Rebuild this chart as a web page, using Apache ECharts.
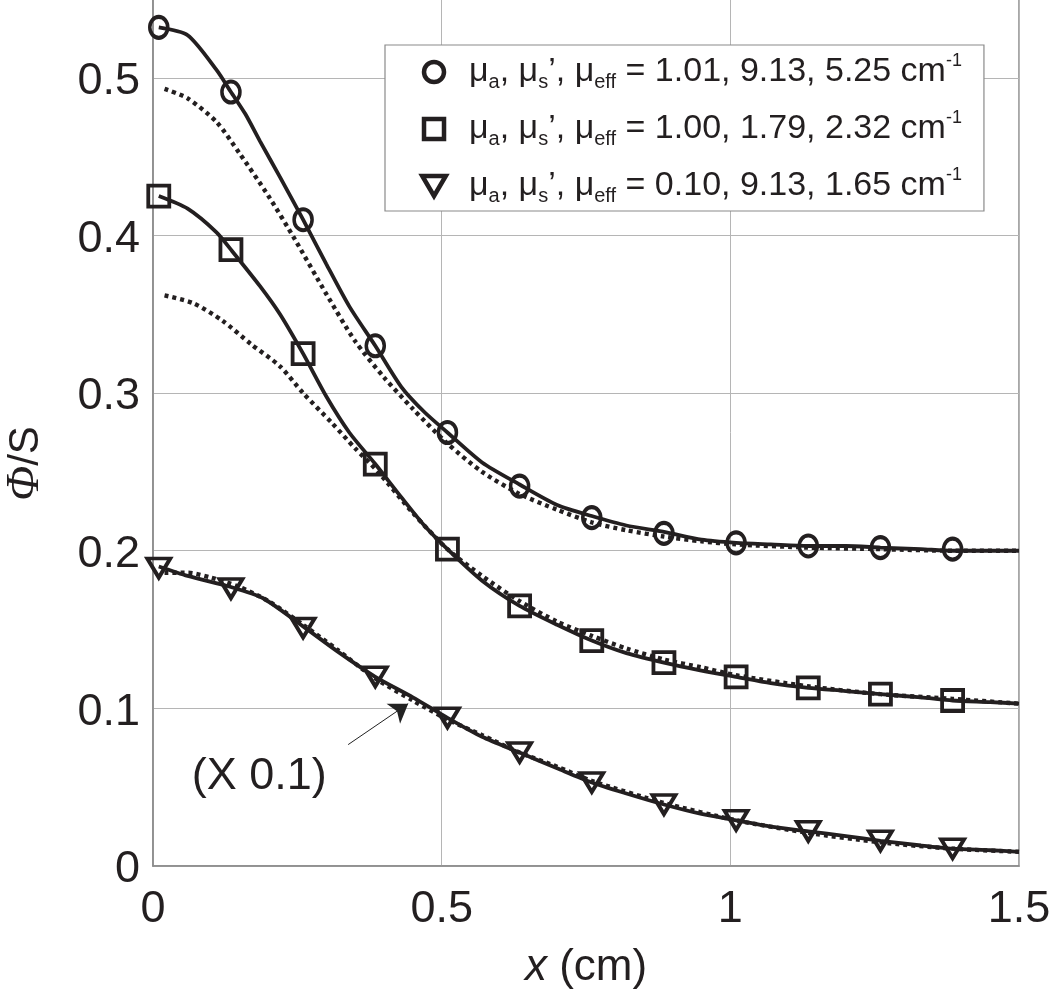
<!DOCTYPE html>
<html>
<head>
<meta charset="utf-8">
<script src="https://cdn.jsdelivr.net/npm/echarts@6/dist/echarts.min.js"></script>
<style>
  html, body { margin: 0; padding: 0; background: #fff; }
  #chart { width: 1050px; height: 989px; }
</style>
</head>
<body>
<div id="chart"></div>
<script>
// ---- data ----
const markerX = [0.01, 0.135, 0.26, 0.385, 0.51, 0.635, 0.76, 0.885, 1.01, 1.135, 1.26, 1.385];
const circleY = [0.532, 0.491, 0.410, 0.330, 0.275, 0.241, 0.221, 0.211, 0.205, 0.203, 0.202, 0.201];
const squareY = [0.425, 0.391, 0.325, 0.255, 0.201, 0.165, 0.143, 0.129, 0.120, 0.113, 0.109, 0.105];
const triangleY = [0.189, 0.176, 0.151, 0.120, 0.094, 0.072, 0.053, 0.039, 0.029, 0.022, 0.016, 0.011];

const circleSolid = [[0.01,0.532],[0.06,0.527],[0.11,0.505],[0.135,0.491],[0.16,0.477],[0.185,0.460],[0.22,0.437],[0.26,0.410],[0.30,0.382],[0.34,0.355],[0.385,0.330],[0.43,0.304],[0.47,0.288],[0.51,0.275],[0.57,0.256],[0.635,0.242],[0.70,0.229],[0.76,0.222],[0.82,0.216],[0.885,0.212],[0.95,0.207],[1.01,0.205],[1.07,0.204],[1.135,0.203],[1.20,0.203],[1.26,0.202],[1.33,0.201],[1.385,0.200],[1.45,0.200],[1.5,0.200]];
const circleDotted = [[0.02,0.493],[0.06,0.487],[0.11,0.472],[0.15,0.452],[0.20,0.425],[0.245,0.398],[0.30,0.363],[0.35,0.333],[0.40,0.310],[0.45,0.290],[0.51,0.268],[0.57,0.250],[0.635,0.236],[0.70,0.226],[0.76,0.218],[0.82,0.213],[0.885,0.209],[0.95,0.206],[1.01,0.204],[1.135,0.202],[1.26,0.201],[1.385,0.200],[1.5,0.200]];

const squareSolid = [[0.01,0.425],[0.06,0.417],[0.11,0.402],[0.135,0.391],[0.185,0.368],[0.22,0.350],[0.26,0.325],[0.30,0.298],[0.34,0.275],[0.385,0.255],[0.43,0.234],[0.47,0.216],[0.51,0.201],[0.57,0.181],[0.635,0.165],[0.70,0.153],[0.76,0.143],[0.82,0.135],[0.885,0.129],[0.95,0.124],[1.01,0.120],[1.07,0.116],[1.135,0.113],[1.20,0.111],[1.26,0.109],[1.33,0.107],[1.385,0.105],[1.45,0.104],[1.5,0.103]];
const squareDotted = [[0.02,0.362],[0.07,0.357],[0.12,0.346],[0.17,0.331],[0.22,0.317],[0.26,0.300],[0.31,0.281],[0.35,0.265],[0.39,0.250],[0.45,0.224],[0.51,0.201],[0.57,0.184],[0.635,0.168],[0.70,0.155],[0.76,0.146],[0.82,0.138],[0.885,0.131],[0.95,0.126],[1.01,0.121],[1.135,0.114],[1.26,0.109],[1.385,0.106],[1.5,0.103]];

const triangleSolid = [[0.01,0.190],[0.06,0.184],[0.135,0.177],[0.19,0.170],[0.26,0.152],[0.32,0.136],[0.385,0.120],[0.45,0.107],[0.51,0.094],[0.57,0.082],[0.635,0.072],[0.70,0.062],[0.76,0.053],[0.82,0.046],[0.885,0.039],[0.95,0.033],[1.01,0.029],[1.07,0.025],[1.135,0.022],[1.20,0.019],[1.26,0.016],[1.33,0.013],[1.385,0.011],[1.45,0.010],[1.5,0.009]];
const triangleDotted = [[0.02,0.186],[0.06,0.186],[0.10,0.183],[0.15,0.177],[0.20,0.168],[0.26,0.153],[0.32,0.137],[0.385,0.119],[0.45,0.105],[0.51,0.093],[0.57,0.083],[0.635,0.072],[0.70,0.063],[0.76,0.054],[0.885,0.040],[1.01,0.029],[1.135,0.021],[1.26,0.015],[1.385,0.011],[1.5,0.009]];

const legendLabels = {
  circle: '1.01, 9.13, 5.25',
  square: '1.00, 1.79, 2.32',
  triangle: '0.10, 9.13, 1.65'
};
const annotationText = '(X 0.1)';
const annotationPos = [0.184, 0.057];
const arrowFrom = [0.338, 0.077];
const arrowTo = [0.442, 0.103];

// ---- chart ----
const FONT = '"Liberation Sans", Arial, Helvetica, sans-serif';
const INK = '#231f20';
const pair = (xs, ys) => xs.map((x, i) => [x, ys[i]]);
const triPath = 'path://M0,0 L20,0 L10,17 Z';
const sqPath = 'path://M0,0 L20,0 L20,20 L0,20 Z';

function markerSeries(name, symbol, size, ys, extra) {
  return Object.assign({
    name: name,
    type: 'scatter',
    data: pair(markerX, ys),
    symbol: symbol,
    symbolSize: size,
    itemStyle: { color: 'rgba(255,255,255,0)', borderColor: INK, borderWidth: 3.8, opacity: 1 },
    z: 5,
    silent: true
  }, extra || {});
}
function lineSeries(name, data, dotted) {
  return {
    name: name,
    type: 'line',
    data: data,
    showSymbol: false,
    smooth: 0.25,
    lineStyle: dotted
      ? { color: INK, width: 4.4, type: [4, 4], cap: 'butt', opacity: 1 }
      : { color: INK, width: 3.8, opacity: 1 },
    z: dotted ? 2 : 3,
    silent: true
  };
}

const chart = echarts.init(document.getElementById('chart'), null, { renderer: 'canvas' });
chart.setOption({
  animation: false,
  backgroundColor: '#ffffff',
  grid: {
    left: 153, right: 31, top: -1, bottom: 123,
    containLabel: false,
    outerBoundsMode: 'none',
    show: true, borderColor: '#8a8a8a', borderWidth: 1.5, backgroundColor: 'transparent'
  },
  xAxis: {
    type: 'value', min: 0, max: 1.5, interval: 0.5,
    name: '{i|x}{r| (cm)}', nameLocation: 'middle', nameGap: 80,
    nameTextStyle: {
      rich: {
        i: { fontFamily: FONT, fontStyle: 'italic', fontSize: 44, color: INK },
        r: { fontFamily: FONT, fontSize: 44, color: INK }
      }
    },
    axisLine: { show: true, lineStyle: { color: '#8a8a8a', width: 1.5 } },
    axisTick: { show: false },
    axisLabel: {
      margin: 21, fontSize: 45, fontFamily: FONT, color: INK,
      formatter: v => (v === 0 ? '0' : String(v))
    },
    splitLine: { show: true, lineStyle: { color: '#b5b5b5', width: 1 } }
  },
  yAxis: {
    type: 'value', min: 0, max: 0.55, interval: 0.1,
    name: '{p|Φ}{r|/S}', nameLocation: 'middle', nameGap: 104,
    nameTextStyle: {
      padding: [0, 62, 0, 0],
      rich: {
        p: { fontFamily: '"Liberation Serif", "Times New Roman", serif', fontStyle: 'italic', fontSize: 46, color: INK },
        r: { fontFamily: FONT, fontSize: 42, color: INK }
      }
    },
    axisLine: { show: true, lineStyle: { color: '#8a8a8a', width: 1.5 } },
    axisTick: { show: false },
    axisLabel: {
      margin: 13, color: INK,
      formatter: v => (v > 0.5001 ? '' : '{a|' + (v === 0 ? '0' : v.toFixed(1)) + '}'),
      rich: {
        a: { fontSize: 45, fontFamily: FONT, color: INK, padding: [8, 0, 0, 0] }
      }
    },
    splitLine: { show: true, lineStyle: { color: '#b5b5b5', width: 1 } }
  },
  legend: {
    data: [
      { name: 'circle', icon: 'circle' },
      { name: 'square', icon: sqPath },
      { name: 'triangle', icon: triPath }
    ],
    orient: 'vertical',
    left: 385, top: 45,
    padding: [7, 22, 5, 35],
    itemGap: 17,
    itemWidth: 60, itemHeight: 20,
    symbolKeepAspect: true,
    selectedMode: false,
    backgroundColor: '#ffffff',
    borderColor: '#8a8a8a', borderWidth: 1.2,
    itemStyle: { borderWidth: 4.5, borderColor: INK, color: 'rgba(255,255,255,0)', opacity: 1 },
    formatter: name => '{t|μ}{s|a}{t|, μ}{s|s}{t|’, μ}{s|eff}{t| = ' + legendLabels[name] + ' cm}{p|-1}',
    textStyle: {
      color: INK,
      rich: {
        t: { fontFamily: FONT, fontSize: 34, lineHeight: 40, color: INK },
        s: { fontFamily: FONT, fontSize: 20, lineHeight: 22, verticalAlign: 'bottom', color: INK },
        p: { fontFamily: FONT, fontSize: 18, lineHeight: 25, verticalAlign: 'top', color: INK }
      }
    }
  },
  series: [
    lineSeries('circle-dotted', circleDotted, true),
    lineSeries('square-dotted', squareDotted, true),
    lineSeries('triangle-dotted', triangleDotted, true),
    lineSeries('circle-solid', circleSolid, false),
    lineSeries('square-solid', squareSolid, false),
    lineSeries('triangle-solid', triangleSolid, false),
    markerSeries('circle', 'circle', [18, 21], circleY),
    markerSeries('square', sqPath, [21, 21], squareY),
    markerSeries('triangle', triPath, [23, 19], triangleY, {
      markPoint: {
        silent: true,
        symbol: 'circle', symbolSize: 1,
        itemStyle: { color: 'rgba(0,0,0,0)', borderWidth: 0 },
        label: { show: true, position: 'inside', formatter: annotationText, fontSize: 45, fontFamily: FONT, color: INK },
        data: [{ coord: annotationPos }]
      },
      markLine: {
        silent: true,
        symbol: ['none', 'arrow'],
        symbolSize: 18,
        label: { show: false },
        lineStyle: { color: '#222', width: 1, type: 'solid', opacity: 1 },
        data: [[{ coord: arrowFrom }, { coord: arrowTo }]]
      }
    })
  ]
});
</script>
</body>
</html>
